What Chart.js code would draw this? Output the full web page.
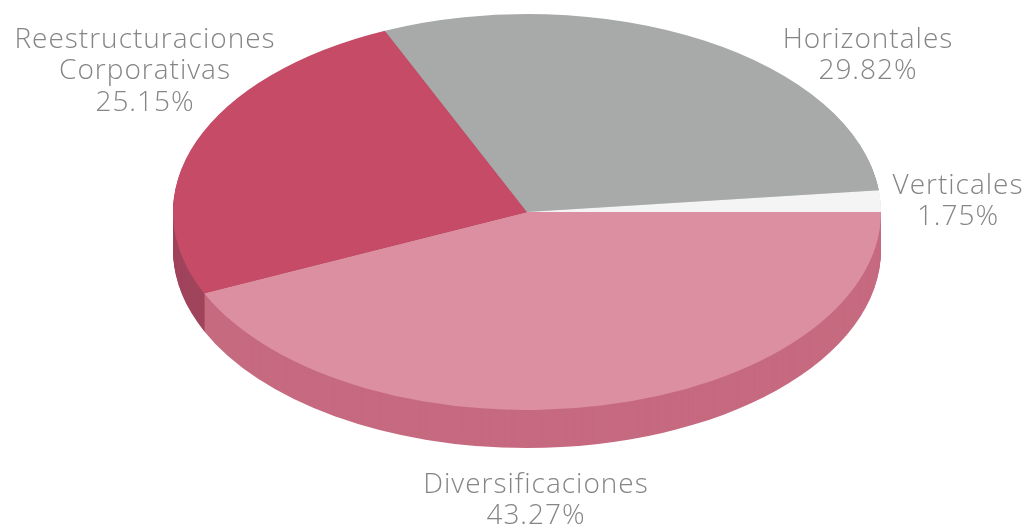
<!DOCTYPE html>
<html>
<head>
<meta charset="utf-8">
<script src="https://cdn.jsdelivr.net/npm/chart.js@4.4.1/dist/chart.umd.min.js"></script>
<style>
  html, body { margin: 0; padding: 0; background: #ffffff; }
  #wrap { width: 1028px; height: 526px; }
</style>
</head>
<body>
<div id="wrap"><canvas id="pieChart" width="1028" height="526"></canvas></div>
<script>
// Data
const categories = ['Diversificaciones', 'Reestructuraciones\nCorporativas', 'Horizontales', 'Verticales'];
const shares = [43.27, 25.15, 29.82, 1.75];

// Look of the slices: top face and extruded side
const topColors = ['#dc8fa0', '#c64b66', '#a8aaaa', '#f4f4f4'];
const sideColors = ['#c66a80', '#a0445c', '#8d8f8f', '#d9d9d9'];

// Where each label block is centred (x) and its first line (y)
const labelX = [536, 145, 868, 958];
const labelY = [485, 40, 40, 186];

// Ellipse geometry of the tilted pie
const ellipse = { cx: 527, cy: 212, rx: 354, ry: 198, depth: 38 };

const tiltTransform = (ctx, arc, dy) => {
  const r = arc.outerRadius;
  ctx.translate(ellipse.cx, ellipse.cy + dy);
  ctx.scale(ellipse.rx / r, ellipse.ry / r);
  ctx.translate(-arc.x, -arc.y);
};

const pie3d = {
  id: 'pie3d',
  beforeDatasetsDraw(chart) {
    const ctx = chart.ctx;
    const arcs = chart.getDatasetMeta(0).data;
    ctx.save();
    // side wall, stacked from the bottom up
    for (let d = ellipse.depth; d >= 1; d--) {
      arcs.forEach((arc, i) => {
        ctx.save();
        tiltTransform(ctx, arc, d);
        ctx.beginPath();
        ctx.moveTo(arc.x, arc.y);
        ctx.arc(arc.x, arc.y, arc.outerRadius, arc.startAngle, arc.endAngle);
        ctx.closePath();
        ctx.fillStyle = sideColors[i];
        ctx.fill();
        ctx.restore();
      });
    }
    // top face is drawn by Chart.js under this transform
    tiltTransform(ctx, arcs[0], 0);
  },
  afterDatasetsDraw(chart) {
    const ctx = chart.ctx;
    ctx.restore();
    ctx.save();
    ctx.fillStyle = '#858585';
    ctx.font = '300 28px "Open Sans"';
    ctx.letterSpacing = '1px';
    ctx.textAlign = 'center';
    ctx.textBaseline = 'middle';
    categories.forEach((cat, i) => {
      const lines = cat.split('\n').concat([shares[i].toFixed(2) + '%']);
      lines.forEach((line, j) => {
        ctx.fillText(line, labelX[i], labelY[i] + j * 31.5);
      });
    });
    ctx.restore();
  }
};

const ctx = document.getElementById('pieChart').getContext('2d');
const chart = new Chart(ctx, {
  type: 'pie',
  data: {
    labels: categories,
    datasets: [{
      data: shares,
      backgroundColor: topColors,
      borderWidth: 0,
      clip: false
    }]
  },
  options: {
    responsive: false,
    animation: false,
    rotation: 90,
    layout: { padding: 0 },
    plugins: {
      legend: { display: false },
      tooltip: { enabled: false }
    }
  },
  plugins: [pie3d]
});
</script>
</body>
</html>
